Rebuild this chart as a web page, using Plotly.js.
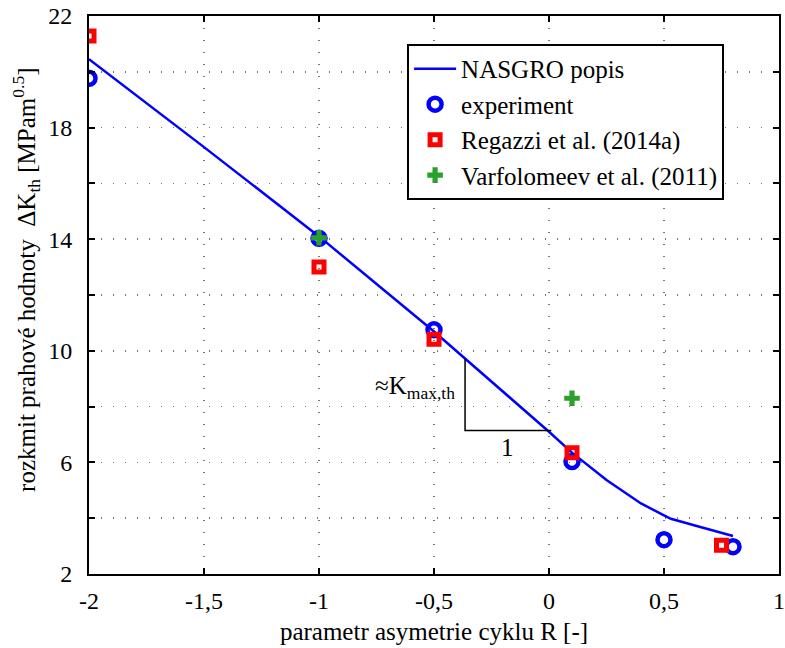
<!DOCTYPE html>
<html>
<head>
<meta charset="utf-8">
<script src="https://cdn.plot.ly/plotly-3.0.1.min.js"></script>
<style>html,body{margin:0;padding:0;background:#fff;}#chart{width:785px;height:648px;}</style>
</head>
<body>
<div id="chart"></div>
<script>
// NASGRO description curve
const nasgroR = [-2, -1.5, -1, -0.5, 0, 0.1, 0.25, 0.4, 0.5, 0.53, 0.65, 0.8];
const nasgroK = [20.45, 17.3, 14.1, 10.69, 7.1, 6.35, 5.37, 4.53, 4.1, 3.98, 3.7, 3.36];
// experiment
const expR = [-2, -1, -0.5, 0.1, 0.5, 0.8];
const expK = [19.77, 14.03, 10.75, 6.03, 3.23, 2.98];
// Regazzi et al. (2014a)
const regR = [-2, -1, -0.5, 0.1, 0.75];
const regK = [21.28, 13.0, 10.41, 6.35, 3.03];
// Varfolomeev et al. (2011)
const varR = [-1, 0.1];
const varK = [14.05, 8.3];
// slope triangle (≈Kmax,th) corners
const triR = [-0.365, -0.365, 0.01];
const triK = [9.7, 7.14, 7.14];

const xTickVals = [-2, -1.5, -1, -0.5, 0, 0.5, 1];
const xTickText = ['-2', '-1,5', '-1', '-0,5', '0', '0,5', '1'];
const yTickVals = [2, 4, 6, 8, 10, 12, 14, 16, 18, 20, 22];
const yTickText = ['2', '', '6', '', '10', '', '14', '', '18', '', '22'];

const serif = 'Liberation Serif';

const traces = [
  {x: nasgroR, y: nasgroK, mode: 'lines', name: 'NASGRO popis',
   line: {color: '#0000ff', width: 2.5}},
  {x: expR, y: expK, mode: 'markers', name: 'experiment',
   marker: {symbol: 'circle-open', size: 13, color: '#0000ff', line: {color: '#0000ff', width: 4.5}}},
  {x: regR, y: regK, mode: 'markers', name: 'Regazzi et al. (2014a)',
   marker: {symbol: 'square-open', size: 10, color: '#ff0000', line: {color: '#ff0000', width: 5}}},
  {x: varR, y: varK, mode: 'markers', name: 'Varfolomeev et al. (2011)',
   marker: {symbol: 'cross', size: 13, color: '#2ca02c', line: {width: 0}}},
  {x: triR, y: triK, mode: 'lines', showlegend: false, hoverinfo: 'skip',
   line: {color: '#000000', width: 1.5}}
];

const axisCommon = {
  showline: true, linecolor: '#000', linewidth: 2, mirror: 'ticks',
  ticks: 'inside', ticklen: 6, tickwidth: 2, tickcolor: '#000',
  showgrid: true, gridcolor: '#777', gridwidth: 1.5, griddash: '1px,11px',
  zeroline: false, tickfont: {family: serif, size: 24, color: '#000'}
};

const layout = {
  width: 785, height: 648,
  margin: {l: 89, r: 6, t: 16, b: 74},
  paper_bgcolor: '#fff', plot_bgcolor: '#fff',
  font: {family: serif, size: 25, color: '#000'},
  showlegend: true,
  legend: {x: 0.461, y: 0.95, xanchor: 'left', yanchor: 'top', itemwidth: 42,
    bgcolor: '#fff', bordercolor: '#000', borderwidth: 2,
    font: {family: serif, size: 25, color: '#000'}, tracegroupgap: 0},
  xaxis: Object.assign({}, axisCommon, {
    range: [-2, 1], tickmode: 'array', tickvals: xTickVals, ticktext: xTickText,
    ticklabelstandoff: 4,
    title: {text: 'parametr asymetrie cyklu R [-]', font: {family: serif, size: 25, color: '#000'}, standoff: 10}
  }),
  yaxis: Object.assign({}, axisCommon, {
    range: [2, 22], tickmode: 'array', tickvals: yTickVals, ticktext: yTickText,
    ticklabelstandoff: 10
  }),
  annotations: [
    {xref: 'paper', yref: 'paper', x: -0.0913, y: 0.527, xanchor: 'center', yanchor: 'middle',
     textangle: -90, showarrow: false,
     text: 'rozkmit prahové hodnoty \u00A0ΔK<sub>th</sub> [MPam<sup>0.5</sup>]',
     font: {family: serif, size: 25, color: '#000'}},
    {xref: 'x', yref: 'y', x: -0.4, y: 8.7, xanchor: 'right', showarrow: false,
     text: '≈K<sub>max,th</sub>', font: {family: serif, size: 25, color: '#000'}},
    {xref: 'x', yref: 'y', x: -0.18, y: 6.55, showarrow: false,
     text: '1', font: {family: serif, size: 25, color: '#000'}}
  ]
};

Plotly.newPlot('chart', traces, layout, {displayModeBar: false, staticPlot: true});
</script>
</body>
</html>
